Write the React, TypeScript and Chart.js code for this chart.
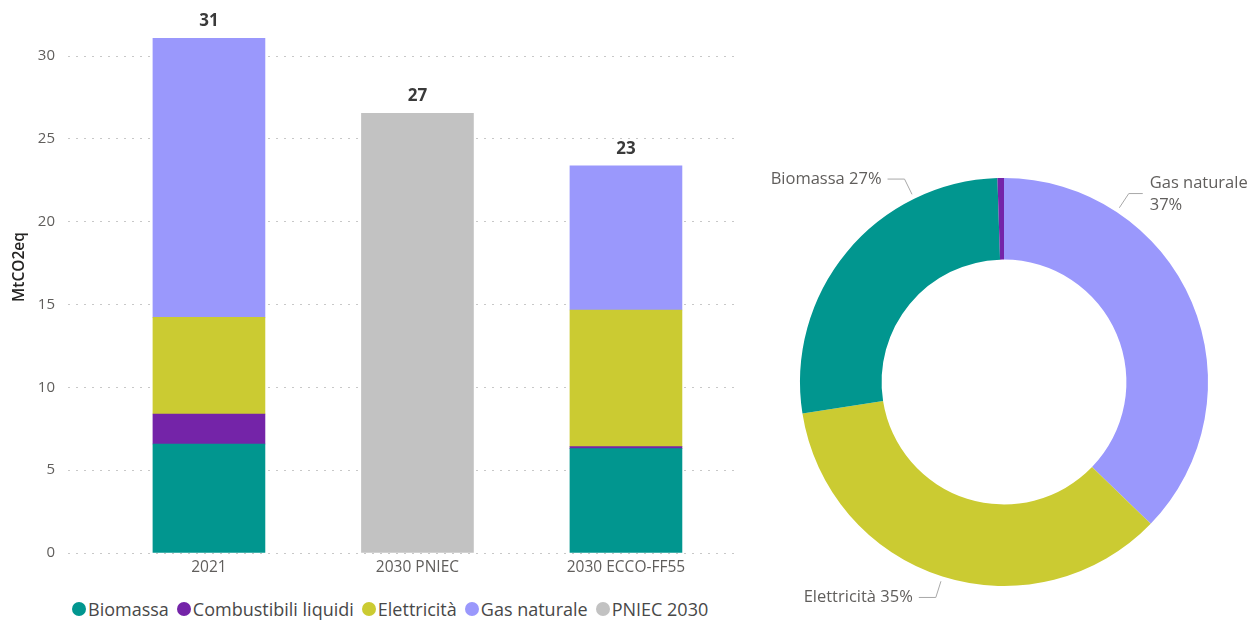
import React, { useEffect, useRef } from 'react';
import { Chart, registerables } from 'chart.js';

Chart.register(...registerables);

const FONT = '"Segoe UI", "Open Sans", sans-serif';

const categories = ['2021', '2030 PNIEC', '2030 ECCO-FF55'];
const biomassa = [6.58, null, 6.3];
const combustibili = [1.81, null, 0.12];
const elettricita = [5.84, null, 8.25];
const gasNaturale = [16.85, null, 8.7];
const pniec2030 = [null, 26.55, null];
const yTickValues = [0, 5, 10, 15, 20, 25, 30];
const yTitle = 'MtCO2eq';

const seriesNames = ['Biomassa', 'Combustibili liquidi', 'Elettricità', 'Gas naturale', 'PNIEC 2030'];
const seriesValues = [biomassa, combustibili, elettricita, gasNaturale, pniec2030];
const seriesColors = ['#01968F', '#7424A8', '#CBCB32', '#9A98FC', '#C2C2C2'];

// Donut shows the "2030 ECCO-FF55" split, clockwise from the top
const donutCategory = 2;
const donutOrder = [3, 2, 0, 1]; // Gas naturale, Elettricità, Biomassa, Combustibili liquidi
const donutAnchors = [0.25, 0.5, 0.75, null];

const totalsPlugin = {
  id: 'totals',
  afterDatasetsDraw(chart: any) {
    const { ctx, scales } = chart;
    ctx.save();
    ctx.font = `bold 17px ${FONT}`;
    ctx.fillStyle = '#3a3a3a';
    ctx.textAlign = 'center';
    ctx.textBaseline = 'middle';
    categories.forEach((_, i) => {
      const total = seriesValues.reduce((s, arr) => s + (arr[i] ?? 0), 0);
      const x = scales.x.getPixelForValue(i);
      const y = scales.y.getPixelForValue(total);
      ctx.fillText(String(Math.round(total)), x, y - 17);
    });
    // y axis title
    ctx.translate(20, 267);
    ctx.rotate(-Math.PI / 2);
    ctx.font = `600 15.5px ${FONT}`;
    ctx.fillStyle = '#252423';
    ctx.fillText(yTitle, 0, 0);
    ctx.restore();
  },
};

const donutLabelPlugin = {
  id: 'donutLabels',
  afterDatasetsDraw(chart: any) {
    const { ctx } = chart;
    const meta = chart.getDatasetMeta(0);
    const values: number[] = chart.data.datasets[0].data;
    const total = values.reduce((s, v) => s + v, 0);
    ctx.save();
    ctx.font = `16.5px ${FONT}`;
    ctx.fillStyle = '#605E5C';
    ctx.strokeStyle = '#A8A8A8';
    ctx.lineWidth = 1;
    meta.data.forEach((arc: any, i: number) => {
      const frac = donutAnchors[i];
      if (frac == null) return;
      const p = arc.getProps(['startAngle', 'endAngle', 'outerRadius', 'x', 'y'], true);
      const a = p.startAngle + (p.endAngle - p.startAngle) * frac;
      const r1 = p.outerRadius + 5;
      const r2 = p.outerRadius + 22;
      const x1 = p.x + Math.cos(a) * r1;
      const y1 = p.y + Math.sin(a) * r1;
      const x2 = p.x + Math.cos(a) * r2;
      const y2 = p.y + Math.sin(a) * r2;
      const right = Math.cos(a) >= 0;
      const x3 = x2 + (right ? 14 : -17);
      ctx.beginPath();
      ctx.moveTo(x1, y1);
      ctx.lineTo(x2, y2);
      ctx.lineTo(x3, y2);
      ctx.stroke();
      const name = chart.data.labels[i];
      const pct = `${Math.round((values[i] / total) * 100)}%`;
      const one = `${name} ${pct}`;
      ctx.textBaseline = 'middle';
      if (right) {
        ctx.textAlign = 'left';
        const tx = x3 + 7;
        if (tx + ctx.measureText(one).width > chart.width - 2) {
          ctx.fillText(name, tx, y2 - 10);
          ctx.fillText(pct, tx, y2 + 12);
        } else {
          ctx.fillText(one, tx, y2);
        }
      } else {
        ctx.textAlign = 'right';
        ctx.fillText(one, x3 - 6, y2);
      }
    });
    ctx.restore();
  },
};

export default function App() {
  const barRef = useRef<HTMLCanvasElement>(null);
  const donutRef = useRef<HTMLCanvasElement>(null);

  useEffect(() => {
    Chart.defaults.font.family = FONT;
    const barChart = new Chart(barRef.current!, {
      type: 'bar',
      data: {
        datasets: seriesNames.map((name, s) => ({
          label: name,
          data: seriesValues[s]
            .map((v, i) => (v == null ? null : { x: i, y: v }))
            .filter((d) => d !== null) as any,
          backgroundColor: seriesColors[s],
          borderWidth: 0,
          barThickness: 112,
          stack: 'all',
        })),
      },
      options: {
        responsive: false,
        animation: false,
        layout: { padding: { top: 23, left: 0, right: 15, bottom: 0 } },
        plugins: { legend: { display: false }, tooltip: { enabled: false } },
        scales: {
          x: {
            type: 'linear',
            offset: false,
            min: -0.676,
            max: 2.523,
            grid: { display: false, drawTicks: false, offset: false },
            border: { display: false },
            afterBuildTicks: (scale: any) => {
              scale.ticks = categories.map((_, i) => ({ value: i }));
            },
            afterFit: (scale: any) => {
              scale.height = 27;
            },
            ticks: {
              autoSkip: false,
              maxRotation: 0,
              padding: 5,
              color: '#605E5C',
              font: { size: 15.5 },
              callback: (v: any) => categories[v] ?? '',
            },
          },
          y: {
            stacked: true,
            min: 0,
            max: 32,
            afterBuildTicks: (scale: any) => {
              scale.ticks = yTickValues.map((v) => ({ value: v }));
            },
            afterFit: (scale: any) => {
              scale.width = 68;
            },
            grid: { color: '#C8C8C8', lineWidth: 1, drawTicks: false },
            border: { display: false, dash: [2, 6] },
            ticks: { padding: 13, color: '#605E5C', font: { size: 15 } },
          },
        },
      },
      plugins: [totalsPlugin],
    } as any);

    const donutChart = new Chart(donutRef.current!, {
      type: 'doughnut',
      data: {
        labels: donutOrder.map((s) => seriesNames[s]),
        datasets: [
          {
            data: donutOrder.map((s) => seriesValues[s][donutCategory] as number),
            backgroundColor: donutOrder.map((s) => seriesColors[s]),
            borderWidth: 0,
          },
        ],
      },
      options: {
        responsive: false,
        animation: false,
        cutout: '60%',
        layout: { padding: { left: 50, right: 51, top: 178, bottom: 35 } },
        plugins: { legend: { display: false }, tooltip: { enabled: false } },
      },
      plugins: [donutLabelPlugin],
    } as any);

    return () => {
      barChart.destroy();
      donutChart.destroy();
    };
  }, []);

  return (
    <div style={{ position: 'fixed', left: 0, top: 0, width: 1259, height: 621, background: '#fff', fontFamily: FONT }}>
      <canvas ref={barRef} width={750} height={580} style={{ position: 'absolute', left: 0, top: 0 }} />
      <canvas ref={donutRef} width={509} height={621} style={{ position: 'absolute', left: 750, top: 0 }} />
      <div
        style={{
          position: 'absolute',
          left: 72,
          top: 597,
          height: 24,
          display: 'flex',
          alignItems: 'center',
          fontSize: 18,
          color: '#484848',
          whiteSpace: 'nowrap',
        }}
      >
        {seriesNames.map((name, s) => (
          <div key={name} style={{ display: 'flex', alignItems: 'center', marginRight: 8 }}>
            <span
              style={{
                display: 'inline-block',
                width: 14,
                height: 14,
                borderRadius: '50%',
                background: seriesColors[s],
                marginRight: 2,
              }}
            />
            <span>{name}</span>
          </div>
        ))}
      </div>
    </div>
  );
}
